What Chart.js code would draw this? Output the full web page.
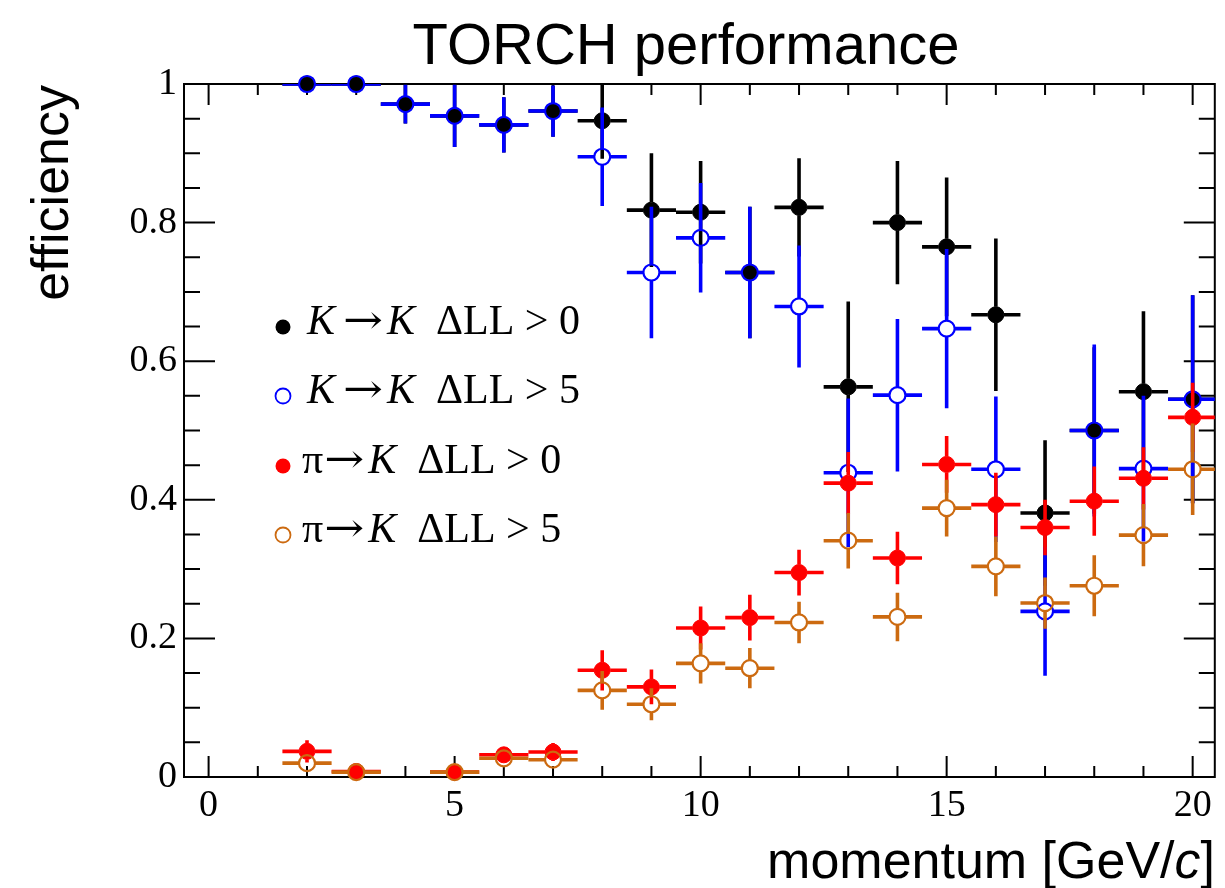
<!DOCTYPE html>
<html>
<head>
<meta charset="utf-8">
<script src="https://cdn.jsdelivr.net/npm/chart.js@4.4.0/dist/chart.umd.min.js"></script>
<style>
  html, body { margin: 0; padding: 0; background: #fff; }
</style>
</head>
<body>
<canvas id="torch" width="1225" height="888"></canvas>
<script>
// momentum bins [GeV/c], each bin is 1 GeV/c wide
var momentum = [2, 3, 4, 5, 6, 7, 8, 9, 10, 11, 12, 13, 14, 15, 16, 17, 18, 19, 20];
var binHalfWidth = 0.5;

// K -> K, DLL > 0
var kk0 = [1.0, 1.0, 0.971, 0.954, 0.941, 0.961, 0.947, 0.818, 0.815, 0.728, 0.822, 0.563, 0.800, 0.765, 0.667, 0.381, 0.500, 0.556, 0.545];
var kk0Err = [0, 0, 0.028, 0.045, 0.040, 0.037, 0.055, 0.082, 0.074, 0.095, 0.071, 0.123, 0.089, 0.100, 0.110, 0.105, 0.120, 0.116, 0.150];
// K -> K, DLL > 5
var kk5 = [1.0, 1.0, 0.971, 0.954, 0.941, 0.961, 0.895, 0.728, 0.778, 0.728, 0.679, 0.439, 0.551, 0.647, 0.444, 0.239, 0.500, 0.445, 0.545];
var kk5Err = [0, 0, 0.028, 0.045, 0.040, 0.037, 0.071, 0.095, 0.079, 0.095, 0.088, 0.107, 0.110, 0.115, 0.105, 0.093, 0.124, 0.105, 0.150];
// pi -> K, DLL > 0
var pk0 = [0.037, 0.008, null, 0.007, 0.032, 0.036, 0.154, 0.130, 0.215, 0.230, 0.295, 0.424, 0.316, 0.451, 0.393, 0.360, 0.398, 0.431, 0.519];
var pk0Err = [0.016, 0.005, null, 0.005, 0.010, 0.013, 0.029, 0.025, 0.031, 0.033, 0.033, 0.045, 0.038, 0.041, 0.046, 0.040, 0.050, 0.045, 0.050];
// pi -> K, DLL > 5
var pk5 = [0.020, 0.007, null, 0.007, 0.027, 0.025, 0.125, 0.105, 0.164, 0.157, 0.223, 0.341, 0.231, 0.388, 0.304, 0.251, 0.276, 0.349, 0.444];
var pk5Err = [0.012, 0.004, null, 0.004, 0.008, 0.010, 0.028, 0.023, 0.029, 0.029, 0.030, 0.040, 0.035, 0.041, 0.043, 0.037, 0.044, 0.045, 0.066];

var seriesLabels = ['K→K  ΔLL > 0', 'K→K  ΔLL > 5', 'π→K  ΔLL > 0', 'π→K  ΔLL > 5'];
var xTicks = [0, 5, 10, 15, 20];
var yTicks = [0, 0.2, 0.4, 0.6, 0.8, 1];

var ORANGE = '#cc6a10';
var SERIF = '"Liberation Serif", "Times New Roman", serif';
var SANS = '"Liberation Sans", Arial, sans-serif';

function points(vals) {
    return momentum.map(function (m, i) { return { x: m, y: vals[i] }; });
}

function makeSet(label, vals, errs, color, hollow, order) {
    return {
        label: label,
        data: points(vals),
        errors: errs,
        hollow: hollow,
        order: order,
        showLine: false,
        clip: false,
        pointRadius: 8,
        pointStyle: 'circle',
        backgroundColor: hollow ? 'rgba(0,0,0,0)' : color,
        borderColor: color,
        pointBorderWidth: hollow ? 2.2 : 1
    };
}

// error bars: drawn just before each dataset so the layering follows the datasets
var errorBars = {
    id: 'errorBars',
    beforeDatasetDraw: function (chart, args) {
        var ds = chart.data.datasets[args.index];
        var xs = chart.scales.x, ys = chart.scales.y, area = chart.chartArea;
        var ctx = chart.ctx;
        var gap = ds.pointRadius;
        ctx.save();
        ctx.beginPath();
        ctx.rect(area.left, area.top, area.right - area.left, area.bottom - area.top);
        ctx.clip();
        ctx.strokeStyle = ds.borderColor;
        ctx.lineWidth = 3.6;
        ds.data.forEach(function (p, j) {
            if (p.y == null) return;
            var e = ds.errors[j] || 0;
            var cx = xs.getPixelForValue(p.x), cy = ys.getPixelForValue(p.y);
            var x0 = xs.getPixelForValue(p.x - binHalfWidth), x1 = xs.getPixelForValue(p.x + binHalfWidth);
            var y0 = ys.getPixelForValue(p.y + e), y1 = ys.getPixelForValue(p.y - e);
            ctx.beginPath();
            ctx.moveTo(x0, cy); ctx.lineTo(cx - gap, cy);
            ctx.moveTo(cx + gap, cy); ctx.lineTo(x1, cy);
            if (cy - gap > y0) { ctx.moveTo(cx, y0); ctx.lineTo(cx, cy - gap); }
            if (cy + gap < y1) { ctx.moveTo(cx, cy + gap); ctx.lineTo(cx, y1); }
            ctx.stroke();
        });
        ctx.restore();
    }
};

// ROOT style frame with inward ticks on all four sides
var frame = {
    id: 'frame',
    beforeDatasetsDraw: function (chart) {
        var ctx = chart.ctx, a = chart.chartArea;
        var xs = chart.scales.x, ys = chart.scales.y;
        ctx.save();
        ctx.strokeStyle = '#000';
        ctx.lineWidth = 2;
        ctx.strokeRect(a.left, a.top, a.right - a.left, a.bottom - a.top);
        ctx.beginPath();
        for (var v = 0; v <= 20; v++) {
            var px = xs.getPixelForValue(v);
            var len = v % 5 === 0 ? 21 : 11;
            ctx.moveTo(px, a.bottom); ctx.lineTo(px, a.bottom - len);
            ctx.moveTo(px, a.top); ctx.lineTo(px, a.top + len);
        }
        for (var k = 0; k <= 20; k++) {
            var py = ys.getPixelForValue(k * 0.05);
            var l = k % 4 === 0 ? 31 : 16;
            ctx.moveTo(a.left, py); ctx.lineTo(a.left + l, py);
            ctx.moveTo(a.right, py); ctx.lineTo(a.right - l, py);
        }
        ctx.stroke();
        ctx.restore();
    }
};

// draw a legend label: K italic, a long arrow, the rest upright
function richText(ctx, text, x, y, size) {
    var parts = [];
    for (var i = 0; i < text.length; i++) {
        var kind = text[i] === 'K' ? 'it' : (text[i] === '→' ? 'arrow' : 'up');
        if (parts.length && parts[parts.length - 1].kind === kind && kind !== 'arrow') parts[parts.length - 1].s += text[i];
        else parts.push({ s: text[i], kind: kind });
    }
    parts.forEach(function (p, n) {
        if (p.kind === 'arrow') {
            var before = parts[n - 1] && parts[n - 1].kind === 'it' ? 8 : 1;
            ctx.font = (size - 2) + 'px "DejaVu Serif", ' + SERIF;
            var w = ctx.measureText(p.s).width;
            ctx.save();
            ctx.translate(x + before, y - size * 0.02);
            ctx.scale(40 / w, 1);
            ctx.fillText(p.s, 0, 0);
            ctx.restore();
            x += before + 44;
            return;
        }
        ctx.font = (p.kind === 'it' ? 'italic ' : '') + size + 'px ' + SERIF;
        ctx.fillText(p.s, x, y);
        x += ctx.measureText(p.s).width;
    });
}

var texts = {
    id: 'texts',
    afterDraw: function (chart) {
        var ctx = chart.ctx;
        ctx.save();
        ctx.fillStyle = '#000';
        ctx.textBaseline = 'alphabetic';

        ctx.font = '58px ' + SANS;
        ctx.textAlign = 'center';
        ctx.fillText('TORCH performance', 686, 64);

        // x axis title, right aligned, italic c
        ctx.textAlign = 'left';
        var f = '52px ' + SANS;
        ctx.font = f;
        var a = 'momentum [GeV/', b = 'c', c = ']';
        var wa = ctx.measureText(a).width, wc = ctx.measureText(c).width;
        ctx.font = 'italic ' + f;
        var wb = ctx.measureText(b).width;
        var x = 1215 - wa - wb - wc;
        ctx.font = f; ctx.fillText(a, x, 878);
        ctx.font = 'italic ' + f; ctx.fillText(b, x + wa, 878);
        ctx.font = f; ctx.fillText(c, x + wa + wb, 878);

        // y axis title
        ctx.save();
        ctx.translate(68, 85);
        ctx.rotate(-Math.PI / 2);
        ctx.textAlign = 'right';
        ctx.font = f;
        ctx.fillText('efficiency', 0, 0);
        ctx.restore();

        // legend
        var rowY = [327, 396, 466, 535];
        chart.data.datasets.forEach(function (ds, i) {
            var cy = rowY[i];
            ctx.beginPath();
            ctx.arc(283, cy, 7.5, 0, Math.PI * 2);
            if (ds.hollow) {
                ctx.strokeStyle = ds.borderColor; ctx.lineWidth = 1.8; ctx.stroke();
            } else {
                ctx.fillStyle = ds.borderColor; ctx.fill();
            }
            ctx.fillStyle = '#000';
            ctx.textAlign = 'left';
            richText(ctx, ds.label, i < 2 ? 307 : 302, cy + 7, 42);
        });
        ctx.restore();
    }
};

var tickFont = { family: SERIF, size: 38 };

new Chart(document.getElementById('torch'), {
    type: 'scatter',
    data: {
        datasets: [
            makeSet(seriesLabels[0], kk0, kk0Err, '#000000', false, 4),
            makeSet(seriesLabels[1], kk5, kk5Err, '#0000ff', true, 3),
            makeSet(seriesLabels[2], pk0, pk0Err, '#ff0000', false, 2),
            makeSet(seriesLabels[3], pk5, pk5Err, ORANGE, true, 1)
        ]
    },
    options: {
        responsive: false,
        animation: false,
        events: [],
        layout: { padding: { top: 84, right: 7, left: 0, bottom: 0 } },
        plugins: {
            legend: { display: false },
            tooltip: { enabled: false }
        },
        scales: {
            x: {
                type: 'linear',
                min: -0.5,
                max: 20.45,
                afterBuildTicks: function (s) { s.ticks = xTicks.map(function (v) { return { value: v }; }); },
                afterFit: function (s) { s.height = 111; },
                grid: { display: false, drawTicks: false },
                border: { display: false },
                ticks: { font: tickFont, color: '#000', padding: 6, maxRotation: 0 }
            },
            y: {
                type: 'linear',
                min: 0,
                max: 1,
                afterBuildTicks: function (s) { s.ticks = yTicks.map(function (v) { return { value: v }; }); },
                afterFit: function (s) { s.width = 184; },
                grid: { display: false, drawTicks: false },
                border: { display: false },
                ticks: { font: tickFont, color: '#000', padding: 7, callback: function (v) { return String(v); } }
            }
        }
    },
    plugins: [frame, errorBars, texts]
});
</script>
</body>
</html>
